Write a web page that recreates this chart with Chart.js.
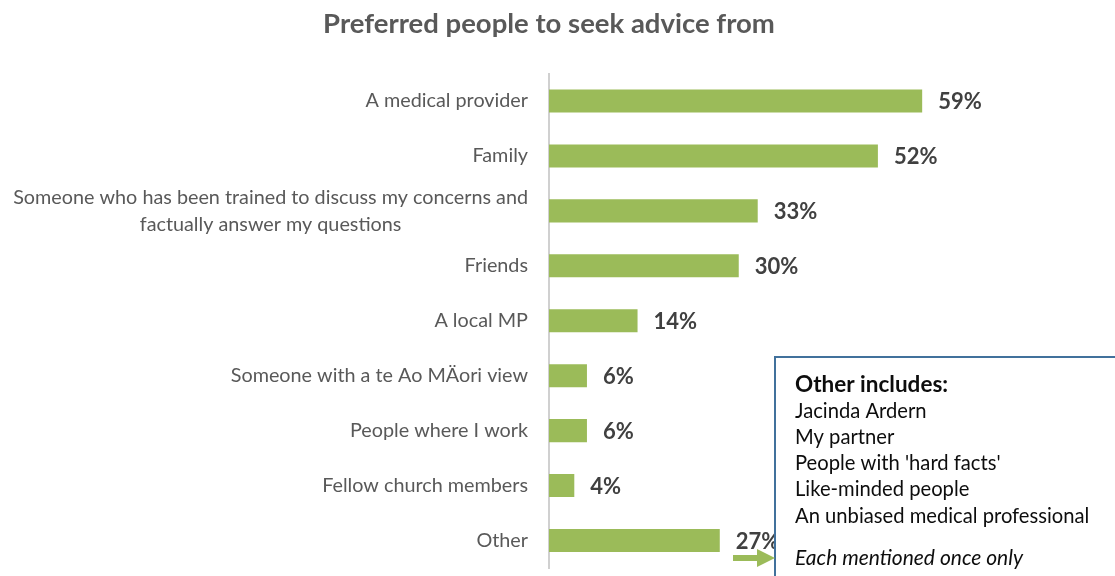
<!DOCTYPE html>
<html>
<head>
<meta charset="utf-8">
<script src="https://cdn.jsdelivr.net/npm/chart.js@4/dist/chart.umd.min.js"></script>
<style>
  html, body { margin: 0; padding: 0; background: #ffffff; }
  #wrap { width: 1115px; height: 576px; position: relative; }
</style>
</head>
<body>
<div id="wrap"><canvas id="chart" width="1115" height="576"></canvas></div>
<script>
// Survey answers: who respondents would prefer to seek advice from
const categories = [
  'A medical provider',
  'Family',
  ['Someone who has been trained to discuss my concerns and', 'factually answer my questions'],
  'Friends',
  'A local MP',
  'Someone with a te Ao MÄori view',
  'People where I work',
  'Fellow church members',
  'Other'
];
const shares = [59, 52, 33, 30, 14, 6, 6, 4, 27];

const otherHeading = 'Other includes:';
const otherItems = [
  'Jacinda Ardern',
  'My partner',
  "People with 'hard facts'",
  'Like-minded people',
  'An unbiased medical professional'
];
const otherNote = 'Each mentioned once only';

const FONT = 'Lato, "Liberation Sans", sans-serif';

// Category labels: right-aligned block beside the axis, wrapped lines centred within the block
const categoryLabels = {
  id: 'categoryLabels',
  afterDraw(chart) {
    const { ctx, chartArea } = chart;
    const y = chart.scales.y;
    const right = chartArea.left - 21;
    const lh = 27;
    ctx.save();
    ctx.font = '19.8px ' + FONT;
    ctx.fillStyle = '#595959';
    ctx.textBaseline = 'middle';
    categories.forEach((lab, i) => {
      const cy = y.getPixelForTick(i);
      const lines = Array.isArray(lab) ? lab : [lab];
      const w = Math.max(...lines.map(l => ctx.measureText(l).width));
      ctx.textAlign = lines.length > 1 ? 'center' : 'right';
      const x = lines.length > 1 ? right - w / 2 : right;
      const y0 = cy - (lines.length - 1) * lh / 2;
      lines.forEach((l, k) => ctx.fillText(l, x, y0 + k * lh));
    });
    ctx.restore();
  }
};

// Note box listing the "Other" answers, with an arrow pointing into it
const otherBox = {
  id: 'otherBox',
  afterDraw(chart) {
    const { ctx } = chart;
    ctx.save();
    ctx.fillStyle = '#ffffff';
    ctx.fillRect(775, 357, 360, 240);
    ctx.strokeStyle = '#41719c';
    ctx.lineWidth = 2;
    ctx.strokeRect(775, 357, 360, 240);

    ctx.fillStyle = '#0d0d0d';
    ctx.textAlign = 'left';
    ctx.textBaseline = 'middle';
    ctx.font = 'bold 22.5px ' + FONT;
    ctx.fillText(otherHeading, 795, 385);
    ctx.font = '20.2px ' + FONT;
    otherItems.forEach((t, i) => ctx.fillText(t, 795, 411 + i * 26.3));
    ctx.font = 'italic 21px ' + FONT;
    ctx.fillText(otherNote, 795, 558);

    // arrow
    ctx.fillStyle = '#9bbb59';
    ctx.beginPath();
    ctx.moveTo(733, 555);
    ctx.lineTo(757, 555);
    ctx.lineTo(757, 549);
    ctx.lineTo(775, 558);
    ctx.lineTo(757, 567);
    ctx.lineTo(757, 561);
    ctx.lineTo(733, 561);
    ctx.closePath();
    ctx.fill();
    ctx.restore();
  }
};

// Percentage labels at the end of each bar
const valueLabels = {
  id: 'valueLabels',
  afterDraw(chart) {
    const { ctx } = chart;
    const meta = chart.getDatasetMeta(0);
    ctx.save();
    ctx.font = 'bold 22px ' + FONT;
    ctx.fillStyle = '#404040';
    ctx.textAlign = 'left';
    ctx.textBaseline = 'middle';
    meta.data.forEach((bar, i) => {
      ctx.fillText(shares[i] + '%', bar.x + 16, bar.y + 1);
    });
    ctx.restore();
  }
};

new Chart(document.getElementById('chart'), {
  type: 'bar',
  data: {
    labels: categories,
    datasets: [{
      data: shares,
      backgroundColor: '#9bbb59',
      borderWidth: 0,
      categoryPercentage: 0.84,
      barPercentage: 0.5
    }]
  },
  options: {
    indexAxis: 'y',
    responsive: false,
    animation: false,
    layout: { padding: { top: 0, right: 60, bottom: 8, left: 43 } },
    plugins: {
      legend: { display: false },
      tooltip: { enabled: false },
      title: {
        display: true,
        text: 'Preferred people to seek advice from',
        color: '#595959',
        font: { family: FONT, size: 27.5, weight: 'bold', lineHeight: 1.2 },
        padding: { top: 7.5, bottom: 33 }
      }
    },
    scales: {
      x: { display: false, min: 0, max: 80 },
      y: {
        display: true,
        ticks: { display: false },
        grid: { display: false },
        border: { display: true, color: '#d0d0d0', width: 2, dash: [3, 2] },
        afterFit(scale) { scale.width = 506; }
      }
    }
  },
  plugins: [categoryLabels, valueLabels, otherBox]
});
</script>
</body>
</html>
